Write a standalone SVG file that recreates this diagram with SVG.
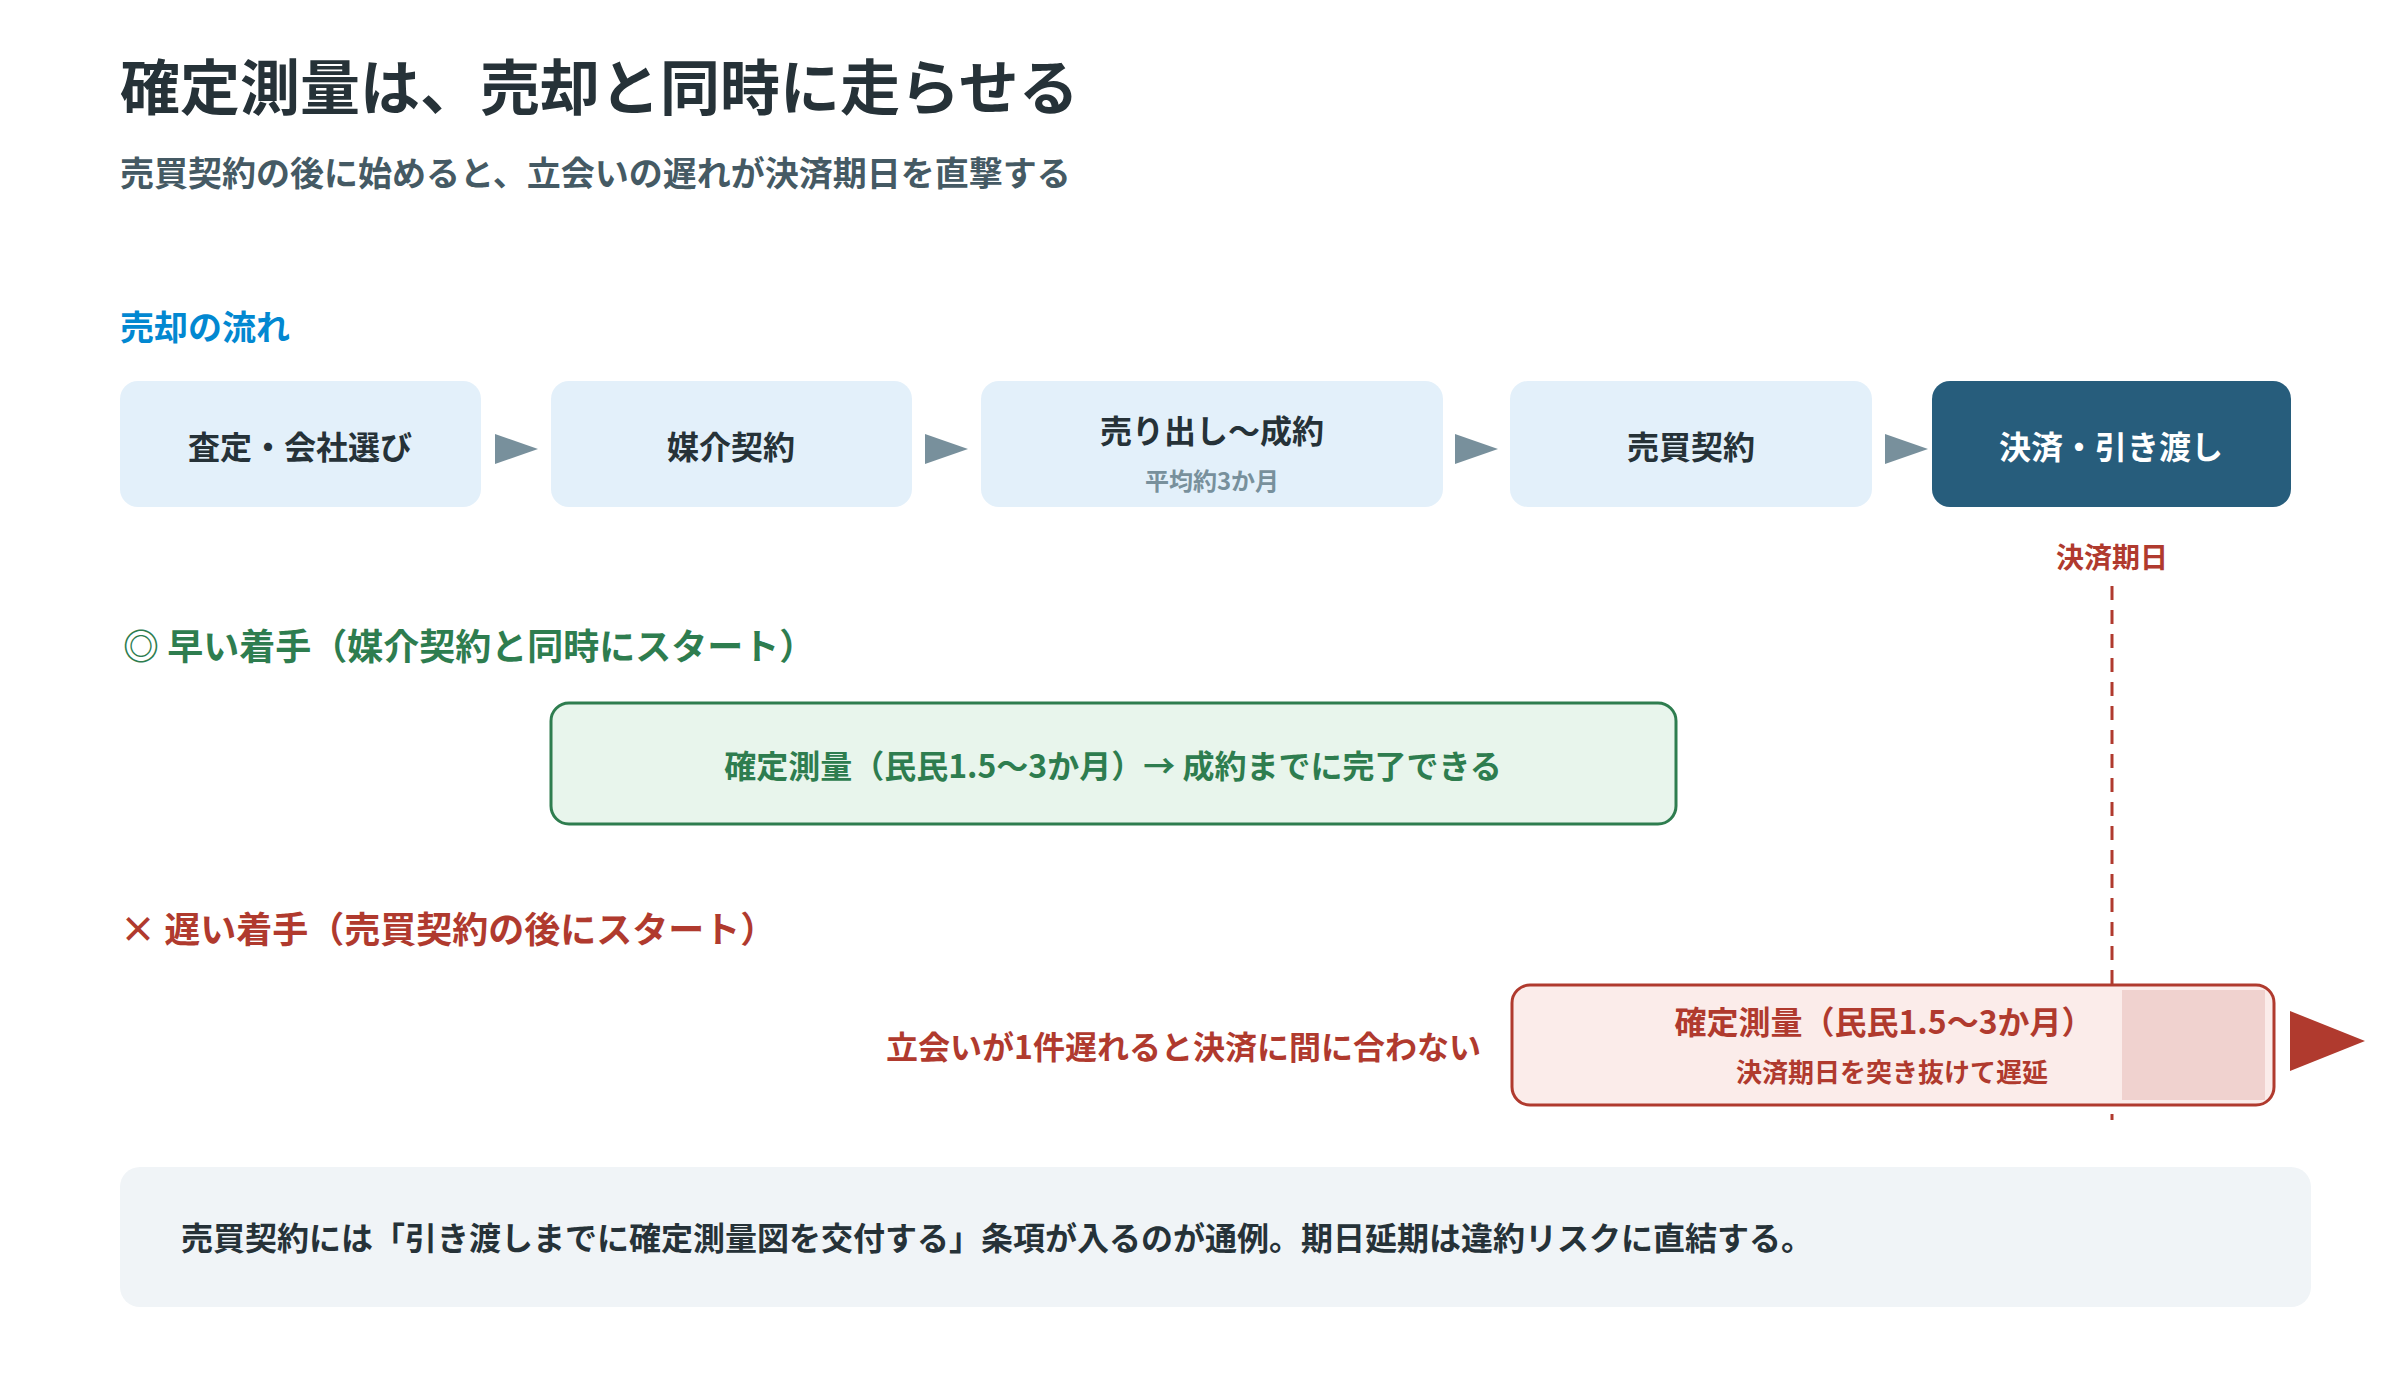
<svg xmlns="http://www.w3.org/2000/svg" width="2400" height="1400" viewBox="0 0 2400 1400">
<style>
text{font-family:"Noto Sans CJK JP","Noto Sans",sans-serif;font-weight:700}
.box{fill:#e3f0fa}
.bt{fill:#263238;font-size:32px;text-anchor:middle}
.arr{fill:#78909c}
</style>
<rect width="2400" height="1400" fill="#fff"/>
<text x="120" y="110" font-size="60" fill="#263238">確定測量は、売却と同時に走らせる</text>
<text x="120" y="186" font-size="34" fill="#455a64">売買契約の後に始めると、立会いの遅れが決済期日を直撃する</text>
<text x="120" y="340" font-size="34" fill="#0288d1">売却の流れ</text>
<g id="n1"><rect class="box" x="120" y="381" width="361" height="126" rx="18"/><text class="bt" x="300" y="459">査定・会社選び</text></g>
<g id="n2"><rect class="box" x="551" y="381" width="361" height="126" rx="18"/><text class="bt" x="731" y="459">媒介契約</text></g>
<g id="n3"><rect class="box" x="981" y="381" width="462" height="126" rx="18"/><text class="bt" x="1212" y="443">売り出し～成約</text><text x="1212" y="490" font-size="24" fill="#78909c" text-anchor="middle">平均約3か月</text></g>
<g id="n4"><rect class="box" x="1510" y="381" width="362" height="126" rx="18"/><text class="bt" x="1691" y="459">売買契約</text></g>
<g id="n5"><rect x="1932" y="381" width="359" height="126" rx="18" fill="#275d7c"/><text class="bt" x="2111" y="459" fill="#fff" style="fill:#fff">決済・引き渡し</text></g>
<g id="connectors">
<polygon class="arr" points="495,434 538,449 495,464"/>
<polygon class="arr" points="925,434 968,449 925,464"/>
<polygon class="arr" points="1455,434 1498,449 1455,464"/>
<polygon class="arr" points="1885,434 1928,449 1885,464"/>
<line x1="2112" y1="586" x2="2112" y2="1120" stroke="#b03a2e" stroke-width="3" stroke-dasharray="14,10"/>
<polygon points="2290,1011 2365,1041 2290,1071" fill="#b03a2e"/>
</g>
<text x="2112" y="568" font-size="28" fill="#b03a2e" text-anchor="middle">決済期日</text>
<text x="123" y="660" font-size="36" fill="#2e7d4f">◎ 早い着手（媒介契約と同時にスタート）</text>
<g id="early"><rect x="551" y="703" width="1125" height="121" rx="18" fill="#e8f5ec" stroke="#2e7d4f" stroke-width="3"/><text x="1113" y="778" font-size="32" fill="#2e7d4f" text-anchor="middle">確定測量（民民1.5～3か月）→ 成約までに完了できる</text></g>
<text x="120" y="943" font-size="36" fill="#b03a2e">× 遅い着手（売買契約の後にスタート）</text>
<text x="1481" y="1059" font-size="32" fill="#b03a2e" text-anchor="end">立会いが1件遅れると決済に間に合わない</text>
<g id="late"><rect x="1512" y="985" width="762" height="120" rx="18" fill="#fbecea" stroke="#b03a2e" stroke-width="3"/><rect x="2122" y="990" width="143" height="110" fill="#f0d2cf"/><text x="1884" y="1034" font-size="32" fill="#b03a2e" text-anchor="middle">確定測量（民民1.5～3か月）</text><text x="1892" y="1082" font-size="26" fill="#b03a2e" text-anchor="middle">決済期日を突き抜けて遅延</text></g>
<g id="note"><rect x="120" y="1167" width="2191" height="140" rx="20" fill="#f0f4f7"/><text x="181" y="1250" font-size="32" fill="#263238">売買契約には「引き渡しまでに確定測量図を交付する」条項が入るのが通例。期日延期は違約リスクに直結する。</text></g>
</svg>
